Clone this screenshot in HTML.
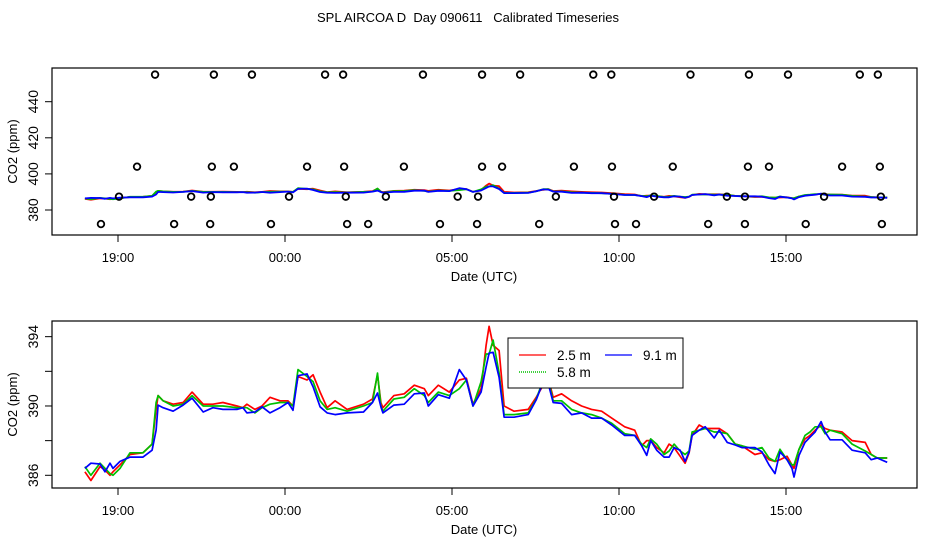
<!DOCTYPE html>
<html><head><meta charset="utf-8"><style>
body{margin:0;background:#fff;}
svg{display:block;font-family:"Liberation Sans",sans-serif;}
</style></head><body>
<svg id="chart" width="936" height="540" viewBox="0 0 936 540">
<rect width="936" height="540" fill="#fff"/>
<text x="468" y="22" text-anchor="middle" font-size="13" style="white-space:pre" xml:space="preserve">SPL AIRCOA D  Day 090611   Calibrated Timeseries</text>
<g id="top"></g>
<g id="bot"></g>
</svg>
<script>
// time in hours since 18:00 (19:00 = 1)
const times = [0.01,0.19,0.46,0.61,0.76,0.85,1.06,1.36,1.75,2.02,2.14,2.20,2.35,2.65,2.95,3.22,3.55,3.84,4.14,4.56,4.74,4.86,5.10,5.31,5.55,5.85,6.09,6.24,6.39,6.66,6.84,7.05,7.26,7.50,7.86,8.35,8.62,8.77,8.87,8.93,9.26,9.57,9.87,10.17,10.29,10.59,10.92,11.22,11.43,11.63,11.87,12.02,12.11,12.23,12.41,12.56,12.86,13.28,13.52,13.73,13.88,14.03,14.28,14.58,14.88,15.18,15.48,15.78,16.17,16.47,16.68,16.83,16.95,17.13,17.35,17.50,17.65,17.83,17.98,18.10,18.19,18.40,18.58,18.85,19.00,19.24,19.48,19.68,20.07,20.28,20.49,20.67,20.82,21.03,21.18,21.24,21.39,21.57,21.72,21.87,22.05,22.17,22.32,22.68,22.98,23.37,23.55,23.73,24.03];
const co2_91m = [386.4,386.7,386.65,386.2,386.7,386.4,386.8,387.05,387.05,387.45,388.6,390.05,389.9,389.7,390.05,390.45,389.65,389.9,389.8,389.8,389.9,389.6,389.65,389.95,389.6,389.9,390.2,389.75,391.75,391.85,391.1,389.95,389.6,389.5,389.6,389.65,390.2,390.75,389.95,389.6,390.05,390.1,390.7,390.75,390.0,390.65,390.45,392.1,391.5,390.0,390.8,392.25,393.05,393.1,391.65,389.35,389.35,389.5,390.35,391.4,391.3,390.2,390.15,389.5,389.6,389.3,389.3,388.9,388.3,388.3,387.7,387.15,388.0,387.45,387.05,387.05,387.6,387.45,386.8,387.35,388.3,388.6,388.8,388.15,388.6,387.9,387.75,387.6,387.6,387.35,386.6,386.1,387.35,386.9,386.4,385.9,387.15,387.9,388.2,388.5,389.1,388.5,388.05,388.05,387.45,387.3,386.9,387.0,386.75];
const co2_25m = [386.2,385.7,386.5,386.3,386.0,386.2,386.6,387.2,387.3,387.8,389.8,390.6,390.3,390.1,390.2,390.8,390.1,390.1,390.2,390.0,389.9,390.1,389.8,390.0,390.5,390.3,390.3,390.0,391.7,391.5,391.8,390.8,389.9,390.3,389.8,390.1,390.4,391.8,390.2,389.9,390.6,390.7,391.2,391.0,390.6,391.2,390.8,391.5,391.6,390.1,391.0,393.5,394.6,393.5,393.2,390.0,389.7,389.8,390.5,391.2,391.6,390.5,390.7,390.3,390.0,389.8,389.7,389.3,388.8,388.6,387.7,388.0,388.0,387.6,387.3,387.8,387.6,387.1,386.7,387.3,388.3,388.9,388.7,388.7,388.7,388.4,387.8,387.7,387.2,387.3,386.9,386.8,386.9,387.1,386.6,386.4,387.5,388.1,388.3,388.6,388.9,388.7,388.6,388.5,388.0,387.9,387.2,387.0,387.0];
const co2_58m = [386.5,386.0,386.7,386.4,386.1,386.0,386.4,387.3,387.3,387.8,390.2,390.6,390.3,390.0,390.1,390.6,390.0,390.0,390.0,389.9,389.9,389.9,389.6,389.9,390.1,390.2,390.2,390.0,392.1,391.7,391.4,390.3,389.8,389.9,389.7,390.0,390.2,391.9,390.0,389.7,390.4,390.5,391.0,390.6,390.2,390.8,390.6,391.0,391.5,390.0,391.4,393.0,393.0,393.8,391.9,389.5,389.5,389.6,390.4,391.5,391.5,390.3,390.3,389.8,389.6,389.5,389.3,389.0,388.4,388.3,387.8,387.6,388.1,387.8,387.2,387.4,387.8,387.4,387.2,387.4,388.5,388.6,388.7,388.5,388.5,388.4,387.8,387.7,387.5,387.6,387.0,386.8,387.5,386.9,386.6,386.6,387.5,388.3,388.5,388.8,388.8,388.4,388.6,388.4,387.8,387.4,387.2,387.0,387.0];
const flagLevels = [455, 404, 387.4, 372.2];
const flagTimes455 = [2.11,3.87,5.01,7.20,7.74,10.13,11.90,13.04,15.23,15.77,18.14,19.89,21.06,23.21,23.75];
const flagTimes404 = [1.57,3.81,4.47,6.66,7.77,9.56,11.90,12.50,14.65,15.79,17.61,19.86,20.49,22.68,23.81];
const flagTimes387 = [1.03,3.19,3.78,6.12,7.82,9.02,11.17,11.78,14.11,15.85,17.05,19.23,19.77,22.14,23.84];
const flagTimes372 = [0.49,2.68,3.76,5.58,7.86,8.49,10.64,11.75,13.61,15.88,16.51,18.67,19.77,21.59,23.87];
const xTickHours = [1, 6, 11, 16, 21];
const xTickLabels = ["19:00","00:00","05:00","10:00","15:00"];
const topYTicks = [380, 400, 420, 440];
const botYTicks = [386, 388, 390, 392, 394];
const botYLabels = ["386","","390","","394"];

const NS = "http://www.w3.org/2000/svg";
function el(tag, attrs, parent, txt){const e=document.createElementNS(NS,tag);for(const k in attrs)e.setAttribute(k,attrs[k]);if(txt!==undefined)e.textContent=txt;parent.appendChild(e);return e;}
const xs = t => 84.6 + 33.4*t;
const L=52,R=917;

function panel(g, top, bottom, ys, yTicks, yLabels, isTop){
  const box=el('rect',{x:L,y:top,width:R-L,height:bottom-top,fill:'none',stroke:'#000','stroke-width':1.2},g);
  
  
  xTickHours.forEach((h,i)=>{
    const x=xs(h);
    const tk=el('line',{x1:x,x2:x,y1:bottom,y2:bottom+7,stroke:'#000'},g);
    
    
    const tl=el('text',{x:x,y:bottom+27,'text-anchor':'middle','font-size':13},g,xTickLabels[i]);
    
    
  });
  const xl=el('text',{x:484,y:bottom+46,'text-anchor':'middle','font-size':13},g,'Date (UTC)');
  
  
  yTicks.forEach((v,i)=>{
    const y=ys(v);
    const tk=el('line',{x1:L-7,x2:L,y1:y,y2:y,stroke:'#000'},g);
    
    
    if(yLabels[i]){
      const tl=el('text',{x:0,y:0,'text-anchor':'middle','font-size':14,transform:`translate(38,${y}) rotate(-90)`},g,yLabels[i]);
      
      
    }
  });
  const yl=el('text',{x:0,y:0,'text-anchor':'middle','font-size':13,transform:`translate(17,${(top+bottom)/2}) rotate(-90)`},g,'CO2 (ppm)');
  
  
  const series=[[co2_25m,'#ff0000','series-2-5m'],[co2_58m,'#00c000','series-5-8m'],[co2_91m,'#0000ff','series-9-1m']];
  series.forEach(([vals,c,n])=>{
    const d=vals.map((v,i)=>(i?'L':'M')+xs(times[i]).toFixed(1)+','+ys(v).toFixed(1)).join(' ');
    const p=el('path',{d:d,fill:'none',stroke:c,'stroke-width':isTop?1.8:1.7,'stroke-linejoin':'round'},g);
    
    
  });
}

const topG=document.getElementById('top');
const ysTop=v=>210-1.805*(v-380);
panel(topG,68,235,ysTop,topYTicks,["380","400","420","440"],true);
[flagTimes455,flagTimes404,flagTimes387,flagTimes372].forEach((arr,li)=>{
  arr.forEach(t=>{
    const c=el('circle',{cx:xs(t),cy:ysTop(flagLevels[li]),r:3.3,fill:'none',stroke:'#000','stroke-width':1.8},topG);
    
    
  });
});

const botG=document.getElementById('bot');
const ysBot=v=>475.3-17.33*(v-386);
panel(botG,321,488,ysBot,botYTicks,botYLabels,false);

// legend
const lg=el('g',{},botG);


el('rect',{x:508,y:338,width:175,height:50,fill:'#fff',stroke:'#000','stroke-width':1},lg);
const ents=[[519,355,'#ff0000','2.5 m'],[605,355,'#0000ff','9.1 m'],[519,372,'#00c000','5.8 m']];
ents.forEach(([x,y,c,t])=>{
  const e=el('g',{},lg);
  
  
  el('line',{x1:x,x2:x+27,y1:y,y2:y,stroke:c,'stroke-width':c==='#00c000'?1.5:1.2,'stroke-dasharray':c==='#00c000'?'1,1':'none'},e);
  el('text',{x:x+38,y:y+5,'font-size':13.5},e,t);
});
</script>
</body></html>
